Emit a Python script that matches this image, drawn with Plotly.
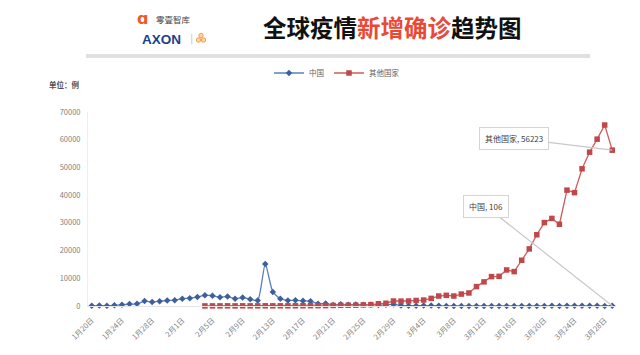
import plotly.graph_objects as go

# ---------------- data ----------------
dates = ([f"1月{d}日" for d in range(20, 32)] +
         [f"2月{d}日" for d in range(1, 30)] +
         [f"3月{d}日" for d in range(1, 30)])

china = [77, 149, 131, 259, 444, 688, 769, 1771, 1459, 1737, 1982, 2102,
         2590, 2829, 3235, 3887, 3694, 3143, 3399, 2656, 3062, 2478, 2015,
         15152, 5090, 2641, 2009, 2048, 1886, 1749, 820, 889, 397, 648, 409,
         508, 406, 433, 327, 427, 573,
         202, 125, 119, 139, 143, 99, 44, 40, 19, 24, 15, 8, 11, 20, 16, 21,
         13, 34, 39, 41, 46, 39, 78, 47, 67, 55, 54, 45, 106]

others = ([None] * 15 +
          [30, 40, 50, 60, 40, 60, 50, 50, 70, 60, 70, 60, 80, 90, 100, 120,
           140, 200, 250, 280, 300, 400, 500, 800, 1000, 1800] +
          [1750, 1800, 2000, 2150, 2750, 3600, 3850, 3600, 4300, 4700,
           7000, 8700, 10600, 10700, 13000, 12400, 16500, 20600, 25700, 30100,
           31600, 29500, 41800, 40900, 49500, 55500, 60200, 65300, 56223])

series_names = ["中国", "其他国家"]
tick_labels = dates[::4]
y_ticks = [0, 10000, 20000, 30000, 40000, 50000, 60000, 70000]

# ---------------- layout helpers ----------------
W, H = 640, 355
L, R, T, B = 88, 24, 112, 49
PW, PH = W - L - R, H - T - B


def px(x):
    return (x - L) / PW


def py(y):
    return (H - B - y) / PH


FONT = "Noto Sans CJK SC"
TICK = "#7f7f7f"

fig = go.Figure()
fig.add_trace(go.Scatter(
    x=dates, y=china, name=series_names[0], mode="lines+markers",
    line=dict(color="#5b80c0", width=1.3, shape="spline", smoothing=0.6),
    marker=dict(symbol="diamond", size=5, color="#3d5f9c"),
    cliponaxis=False))
fig.add_trace(go.Scatter(
    x=dates, y=others, name=series_names[1], mode="lines+markers",
    line=dict(color="#cf5b5b", width=1.3),
    marker=dict(symbol="square", size=5.5, color="#c0474a"),
    cliponaxis=False))

fig.update_layout(
    width=W, height=H, margin=dict(l=L, r=R, t=T, b=B),
    paper_bgcolor="white", plot_bgcolor="white",
    font=dict(family=FONT, size=8, color=TICK),
    showlegend=True,
    legend=dict(orientation="h", x=px(337), xanchor="center",
                y=py(73), yanchor="middle", itemwidth=30,
                font=dict(size=7.5, color="#606060"),
                bgcolor="rgba(0,0,0,0)", tracegroupgap=0),
    xaxis=dict(type="category", range=[-0.5, len(dates) - 0.5],
               tickvals=tick_labels, ticktext=tick_labels, tickangle=-45,
               showgrid=False, zeroline=False, showline=True,
               linecolor="#e4e4e4", linewidth=1, ticks="",
               ticklabelstandoff=6,
               tickfont=dict(family=FONT, size=7.5, color=TICK)),
    yaxis=dict(range=[0, 70000], tickvals=y_ticks,
               ticktext=[str(v) for v in y_ticks],
               showgrid=False, zeroline=False, showline=True,
               linecolor="#eeeeee", linewidth=1, ticks="",
               ticklabelstandoff=5,
               tickfont=dict(family=FONT, size=7.5, color=TICK)),
)

# callouts
fig.add_annotation(x=dates[-1], y=china[-1], text=f"{series_names[0]}, {china[-1]}",
                   showarrow=True, arrowhead=0, arrowwidth=1.2, arrowcolor="#c8c8c8",
                   ax=-126, ay=-99, bgcolor="white", bordercolor="#d4d4d4",
                   borderwidth=1, borderpad=5, font=dict(size=8, color="#404040"))
fig.add_annotation(x=dates[-1], y=others[-1], text=f"{series_names[1]}, {others[-1]}",
                   showarrow=True, arrowhead=0, arrowwidth=1.2, arrowcolor="#c8c8c8",
                   ax=-98, ay=-12, bgcolor="white", bordercolor="#d4d4d4",
                   borderwidth=1, borderpad=5, font=dict(size=8, color="#404040"))

# unit label
fig.add_annotation(xref="paper", yref="paper", x=px(82), y=py(84),
                   xanchor="right", yanchor="middle", showarrow=False,
                   text="<b>单位：例</b>", font=dict(size=7.5, color="#505050"))

# title
fig.add_annotation(xref="paper", yref="paper", x=px(392), y=py(27),
                   xanchor="center", yanchor="middle", showarrow=False,
                   text='<b>全球疫情<span style="color:#ea4a35">新增确诊</span>趋势图</b>',
                   font=dict(family=FONT, size=23.5, color="#111111"))

# logo
fig.add_annotation(xref="paper", yref="paper", x=px(142), y=py(19),
                   xanchor="center", yanchor="middle", showarrow=False,
                   text="<b>ɑ</b>", font=dict(family="DejaVu Sans", size=16, color="#f05a22"))
fig.add_annotation(xref="paper", yref="paper", x=px(154), y=py(19),
                   xanchor="left", yanchor="middle", showarrow=False,
                   text="零壹智库", font=dict(family=FONT, size=8.5, color="#444444"))
fig.add_annotation(xref="paper", yref="paper", x=px(140), y=py(39),
                   xanchor="left", yanchor="middle", showarrow=False,
                   text="<b>AXON</b>", font=dict(family="Liberation Sans", size=13.5, color="#1c3f8f"))
fig.add_annotation(xref="paper", yref="paper", x=px(191), y=py(39),
                   xanchor="center", yanchor="middle", showarrow=False,
                   text="|", font=dict(family="DejaVu Sans", size=10, color="#c8c8c8"))

shapes = []
for cx, cy in [(201, 35.5), (198.5, 40), (203.5, 40)]:
    shapes.append(dict(type="circle", xref="paper", yref="paper",
                       x0=px(cx - 2.2), x1=px(cx + 2.2), y0=py(cy + 2.2), y1=py(cy - 2.2),
                       line=dict(color="#f5a04a", width=1), fillcolor="#fbd3a6"))
# header separator bar
shapes.append(dict(type="rect", xref="paper", yref="paper",
                   x0=px(86), x1=px(590), y0=py(58), y1=py(54),
                   line=dict(width=0), fillcolor="#e0e0e0", layer="below"))
fig.update_layout(shapes=shapes)

fig.write_html("out.html")
